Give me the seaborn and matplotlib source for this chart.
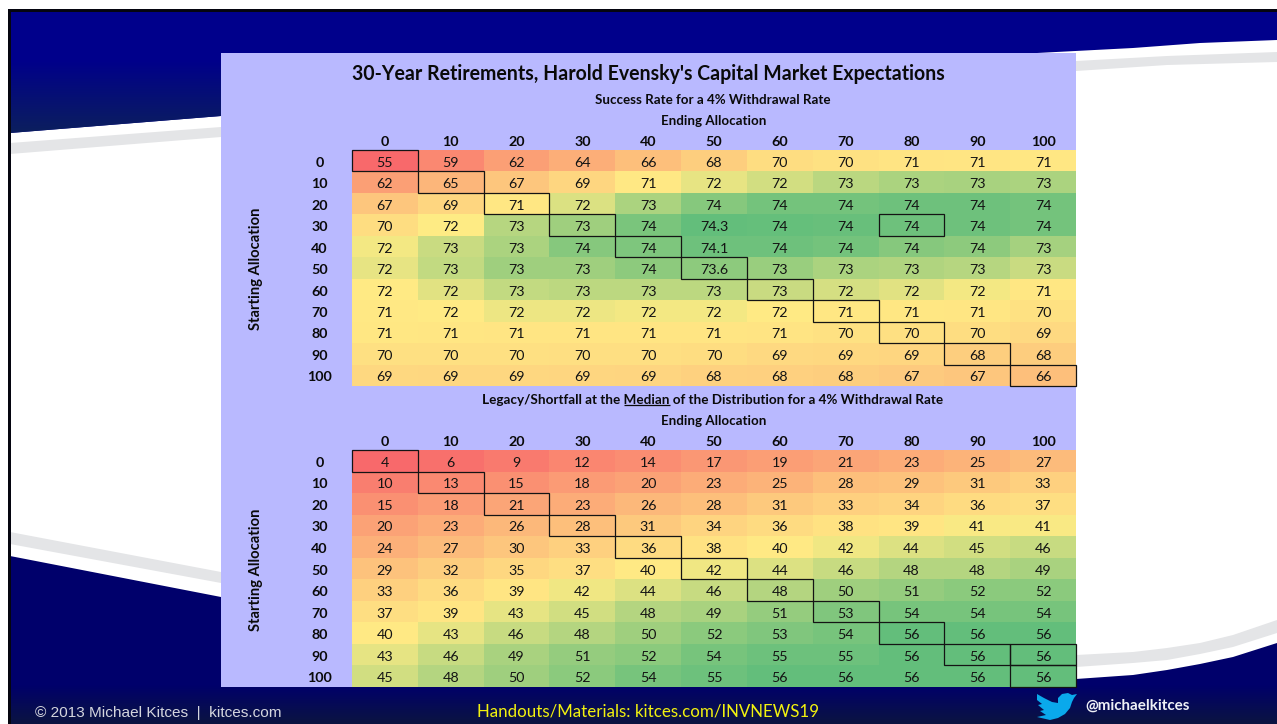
import numpy as np
import pandas as pd
import matplotlib
matplotlib.use("Agg")
import matplotlib.pyplot as plt
from matplotlib.colors import LinearSegmentedColormap, TwoSlopeNorm
from matplotlib.patches import Polygon, Rectangle
from matplotlib.transforms import ScaledTranslation
import seaborn as sns

# ---------- data ----------
allocations = [0, 10, 20, 30, 40, 50, 60, 70, 80, 90, 100]

success_labels = [
    ["55", "59", "62", "64", "66", "68", "70", "70", "71", "71", "71"],
    ["62", "65", "67", "69", "71", "72", "72", "73", "73", "73", "73"],
    ["67", "69", "71", "72", "73", "74", "74", "74", "74", "74", "74"],
    ["70", "72", "73", "73", "74", "74.3", "74", "74", "74", "74", "74"],
    ["72", "73", "73", "74", "74", "74.1", "74", "74", "74", "74", "73"],
    ["72", "73", "73", "73", "74", "73.6", "73", "73", "73", "73", "73"],
    ["72", "72", "73", "73", "73", "73", "73", "72", "72", "72", "71"],
    ["71", "72", "72", "72", "72", "72", "72", "71", "71", "71", "70"],
    ["71", "71", "71", "71", "71", "71", "71", "70", "70", "70", "69"],
    ["70", "70", "70", "70", "70", "70", "69", "69", "69", "68", "68"],
    ["69", "69", "69", "69", "69", "68", "68", "68", "67", "67", "66"],
]
# unrounded values estimated from the cell shading
success_values = [
    [55.0, 59.0, 62.0, 64.0, 66.0, 68.0, 70.0, 70.4, 70.8, 71.0, 71.2],
    [62.0, 65.0, 67.0, 69.0, 71.4, 72.1, 72.45, 72.85, 73.1, 73.15, 73.1],
    [67.0, 69.0, 71.3, 72.3, 73.1, 73.7, 74.0, 74.0, 74.1, 74.1, 74.0],
    [70.0, 71.7, 72.9, 73.3, 73.9, 74.3, 74.25, 74.2, 74.1, 74.1, 74.0],
    [71.9, 72.6, 73.1, 73.7, 73.85, 74.1, 74.1, 74.0, 73.7, 73.6, 73.2],
    [72.1, 72.7, 73.3, 73.3, 73.6, 73.6, 73.4, 73.1, 73.0, 72.9, 72.6],
    [71.6, 72.2, 72.7, 72.8, 72.8, 72.8, 72.6, 72.4, 72.2, 71.9, 71.3],
    [71.4, 71.6, 72.0, 72.0, 71.9, 71.9, 71.6, 71.3, 71.2, 71.1, 70.4],
    [71.2, 71.1, 71.0, 71.0, 71.0, 71.0, 70.9, 70.5, 70.3, 70.0, 69.4],
    [70.3, 70.3, 70.3, 70.2, 70.2, 69.9, 69.4, 69.3, 69.0, 68.0, 67.9],
    [69.3, 69.2, 69.1, 69.0, 68.9, 68.4, 68.3, 68.0, 67.4, 67.0, 66.0],
]
legacy_values = [
    [4, 6, 9, 12, 14, 17, 19, 21, 23, 25, 27],
    [10, 13, 15, 18, 20, 23, 25, 28, 29, 31, 33],
    [15, 18, 21, 23, 26, 28, 31, 33, 34, 36, 37],
    [20, 23, 26, 28, 31, 34, 36, 38, 39, 41, 41],
    [24, 27, 30, 33, 36, 38, 40, 42, 44, 45, 46],
    [29, 32, 35, 37, 40, 42, 44, 46, 48, 48, 49],
    [33, 36, 39, 42, 44, 46, 48, 50, 51, 52, 52],
    [37, 39, 43, 45, 48, 49, 51, 53, 54, 54, 54],
    [40, 43, 46, 48, 50, 52, 53, 54, 56, 56, 56],
    [43, 46, 49, 51, 52, 54, 55, 55, 56, 56, 56],
    [45, 48, 50, 52, 54, 55, 56, 56, 56, 56, 56],
]
# outlined (row, column) cells
success_boxes = [(i, i) for i in range(11)] + [(3, 8)]
legacy_boxes = [(i, i) for i in range(11)] + [(9, 10)]

TITLE = "30-Year Retirements, Harold Evensky's Capital Market Expectations"
SUB_A = "Success Rate for a 4% Withdrawal Rate"
SUB_B = ("Legacy/Shortfall at the ", "Median", " of the Distribution for a 4% Withdrawal Rate")

# ---------- setup ----------
W, H = 1277, 724
sns.set_theme(style="white")
plt.rcParams["font.family"] = ["Lato", "DejaVu Sans"]
fig = plt.figure(figsize=(W / 100, H / 100), dpi=100, facecolor="white")

bg = fig.add_axes([0, 0, 1, 1], zorder=0)
bg.set_xlim(0, W)
bg.set_ylim(H, 0)
bg.axis("off")


def gradient(ax, poly_pts, top, bottom, y0, y1):
    """Solid `top` colour above y0, fading to `bottom` between y0 and y1, clipped to the shape."""
    poly = Polygon(poly_pts, closed=True, fc=top, ec="none", zorder=1)
    ax.add_patch(poly)
    c = LinearSegmentedColormap.from_list("g", [top, bottom])
    im = ax.imshow(np.linspace(0, 1, 256)[:, None], cmap=c, aspect="auto",
                   extent=(0, W, y1, y0), zorder=1.1)
    im.set_clip_path(poly)
    ax.set_xlim(0, W)
    ax.set_ylim(H, 0)


# top wave
gradient(bg, [(10, 12), (W, 12), (W, 40), (1200, 43), (1133, 48), (1037, 53), (221, 116), (10, 133)],
         "#00008b", "#0c205c", 60, 135)
bg.add_patch(Polygon([(10, 143), (221, 127), (1076, 61), (1167, 56), (W, 52),
                      (W, 62), (1167, 65), (1076, 71), (221, 137), (10, 154)],
                     fc="#e4e5e7", ec="none", zorder=1))
# bottom wave
bg.add_patch(Polygon([(10, 532), (221, 572), (700, 650), (1076, 655), (1133, 652), (1167, 648),
                      (1200, 643), (1233, 635), (W, 620),
                      (W, 633), (1233, 647), (1200, 654), (1167, 660), (1133, 663), (1076, 667),
                      (700, 662), (221, 583), (10, 544)],
                     fc="#e4e5e7", ec="none", zorder=1))
gradient(bg, [(10, 556), (221, 597), (700, 680), (1076, 679), (1133, 675), (1167, 670), (1200, 664),
              (1233, 657), (W, 643), (W, H), (10, H)],
         "#00006b", "#0b1440", 685, H)

# black frame
bg.add_patch(Rectangle((8, 9), W - 8, 3, fc="#05050f", ec="none", zorder=3))
bg.add_patch(Rectangle((8, 9), 2.5, H - 9, fc="#05050f", ec="none", zorder=3))

# panel
bg.add_patch(Rectangle((221, 53), 855, 634, fc="#b9b9ff", ec="none", zorder=2))

# colour scale
cmap = LinearSegmentedColormap.from_list("excel", ["#f8696b", "#ffeb84", "#63be7b"])


def panel(frame_values, labels, boxes, top_px, bottom_px, vcenter):
    left, right = 352, 1076
    ax = fig.add_axes([left / W, 1 - bottom_px / H, (right - left) / W, (bottom_px - top_px) / H], zorder=2)
    arr = np.array(frame_values, dtype=float)
    df = pd.DataFrame(arr, index=allocations, columns=allocations)
    norm = TwoSlopeNorm(vmin=arr.min(), vcenter=vcenter, vmax=arr.max())
    sns.heatmap(df, ax=ax, cmap=cmap, norm=norm, cbar=False, annot=np.array(labels), fmt="",
                annot_kws={"fontsize": 10.3, "color": "#141414", "family": ["Lato", "DejaVu Sans"]})
    ax.xaxis.tick_top()
    ax.tick_params(axis="both", length=0)
    ax.tick_params(axis="x", pad=6)
    ax.tick_params(axis="y", pad=23.5)
    ax.set_xlabel("")
    ax.set_ylabel("")
    down = ScaledTranslation(0, -1.5 / 72, fig.dpi_scale_trans)
    plt.setp(ax.get_xticklabels(), fontweight="bold", fontsize=10.3, color="#0a0a0a", rotation=0, va="center")
    plt.setp(ax.get_yticklabels(), fontweight="bold", fontsize=10.3, color="#0a0a0a", rotation=0, ha="center", va="center")
    for t in ax.get_yticklabels():
        t.set_transform(t.get_transform() + down)
    for t in ax.texts:
        t.set_transform(t.get_transform() + down)
    for r, c in boxes:
        ax.add_patch(Rectangle((c, r), 1, 1, fill=False, ec="#141414", lw=0.9, clip_on=False, zorder=5))
    return ax


panel(success_values, success_labels, success_boxes, 150, 386, 71.7)
panel(legacy_values, [[str(v) for v in row] for row in legacy_values], legacy_boxes, 450, 687, 40.5)

# overlay for texts
ov = fig.add_axes([0, 0, 1, 1], zorder=3)
ov.set_xlim(0, W)
ov.set_ylim(H, 0)
ov.axis("off")
ov.patch.set_alpha(0)

bold = dict(fontweight="bold", color="#0a0a0a", ha="center", va="center")
ov.text(648, 74, TITLE, fontsize=14.05, **bold)
ov.text(713, 99.5, SUB_A, fontsize=9.6, **bold)
ov.text(714, 121, "Ending Allocation", fontsize=9.6, **bold)
ov.text(714, 421, "Ending Allocation", fontsize=9.6, **bold)
ov.text(256, 268.5, "Starting Allocation", fontsize=10.6, rotation=90, **bold)
ov.text(256, 569.5, "Starting Allocation", fontsize=10.6, rotation=90, **bold)

full = "".join(SUB_B)
sub = ov.text(713, 399.5, full, fontsize=9.7, **bold)
fig.canvas.draw()
rend = fig.canvas.get_renderer()
ext = sub.get_window_extent(rend)


def width(s):
    t = ov.text(0, 0, s, fontsize=9.7, fontweight="bold")
    w = t.get_window_extent(rend).width
    t.remove()
    return w


x0 = ext.x0 + width(SUB_B[0] + "|") - width("|")
x1 = x0 + width(SUB_B[1])
ov.plot([x0, x1], [405, 405], color="#0a0a0a", lw=0.9, solid_capstyle="butt")

# footer
ov.text(35, 713, "© 2013 Michael Kitces  |  kitces.com", fontsize=11.1, color="#d4d6de",
        family=["Liberation Sans"], ha="left", va="center")
ov.text(477, 711.5, "Handouts/Materials: kitces.com/INVNEWS19", fontsize=12.2, color="#f2f20f",
        ha="left", va="center")
ov.text(1085, 706, "@michaelkitces", fontsize=10.9, fontweight="bold", color="#eef0f6",
        ha="left", va="center")
bird = [(1037, 694), (1044, 698), (1052, 702), (1058, 703), (1058, 698), (1062, 694), (1068, 693),
        (1072, 695), (1077, 694), (1074, 698), (1072, 702), (1070, 708), (1065, 714), (1058, 718),
        (1050, 720), (1037, 717), (1046, 715), (1040, 711), (1044, 710), (1038, 705), (1042, 704), (1037, 700)]
ov.add_patch(Polygon(bird, fc="#0aa9ec", ec="none"))
ov.set_xlim(0, W)
ov.set_ylim(H, 0)

fig.savefig("out.png", dpi=100, facecolor="white")
